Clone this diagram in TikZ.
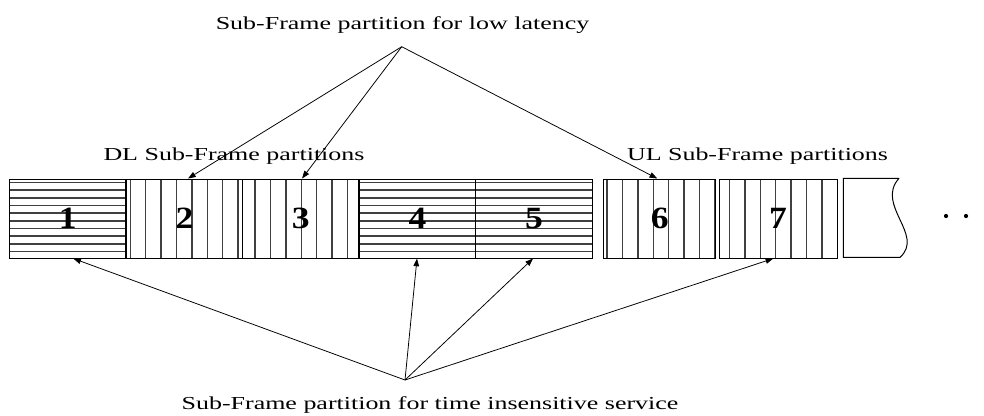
\documentclass[tikz,border=0pt]{standalone}
\usepackage{fontspec}
\setmainfont{Liberation Serif}[FakeStretch=1.42]
\newfontfamily\numfont{Liberation Serif}[FakeStretch=1.15]
\usetikzlibrary{calc,arrows.meta,backgrounds}

\begin{document}
\begin{tikzpicture}[x=0.025cm, y=-0.025cm,
        part/.style={draw=black, line width=0.7pt, minimum width=2.91cm, minimum height=1.975cm, inner sep=0pt, font=\numfont\fontsize{22}{24}\selectfont\bfseries},
        hatch/.style={black!75, line width=1.05pt},
        lbl/.style={font=\fontsize{13}{15}\selectfont, inner sep=0pt, anchor=base},
        ptr/.style={-{Triangle[length=5.5pt,width=4pt]}, line width=0.55pt}]
        \useasboundingbox (0,0) rectangle (984,415);

        \node (p1) [part] at (67.75,218.5) {1};
        \node (p2) [part] at (184.5,218.5) {2};
        \node (p3) [part] at (300.75,218.5) {3};
        \node (p4) [part] at (417.5,218.5) {4};
        \node (p5) [part] at (534,218.5) {5};
        \node (p6) [part, minimum width=2.81cm] at (659.75,218.5) {6};
        \node (p7) [part, minimum width=2.95cm] at (778,218.5) {7};

        \begin{scope}[on background layer]
            \foreach \b in {p1,p4,p5}
                \foreach \k in {0,...,9}
                    \draw[hatch] ($(\b.north west)+(0,4+7.67*\k)$) -- ($(\b.north east)+(0,4+7.67*\k)$);
            \foreach \b/\o/\n in {p2/4.5/7, p3/13/6, p6/4/7, p7/11/6}
                \foreach \k in {0,...,\n}
                    \draw[hatch] ($(\b.north west)+(\o+15.4*\k,0)$) -- ($(\b.south west)+(\o+15.4*\k,0)$);
        \end{scope}

        % next frame, cut off
        \draw[line width=0.7pt] (899,178.3) -- (843.3,178.3) -- (843.3,257.3) -- (900,257.3) .. controls (925,235) and (875,205) .. (899,178.3);
        \fill (946,216) circle (1.5pt);
        \fill (966,216) circle (1.5pt);

        \node (lowlat) [lbl] at (402.5,29.3) {Sub-Frame partition for low latency};
        \node (dl) [lbl] at (234,160) {DL Sub-Frame partitions};
        \node (ul) [lbl] at (757.5,160) {UL Sub-Frame partitions};
        \node (insens) [lbl] at (430,409) {Sub-Frame partition for time insensitive service};

        \coordinate (lowtip) at (401.7,46.7);
        \coordinate (instip) at (405,380);

        \draw[ptr] (lowtip) -- ($(p2.north)+(3.5,0)$);
        \draw[ptr] (lowtip) -- ($(p3.north)+(1.3,0)$);
        \draw[ptr] (lowtip) -- ($(p6.north)+(-2.5,0)$);

        \draw[ptr] (instip) -- ($(p1.south)+(5.5,0)$);
        \draw[ptr] (instip) -- ($(p4.south)+(-0.5,0)$);
        \draw[ptr] (instip) -- ($(p5.south)+(-1,0)$);
        \draw[ptr] (instip) -- ($(p7.south)+(-4.7,0)$);
    \end{tikzpicture}
\end{document}
